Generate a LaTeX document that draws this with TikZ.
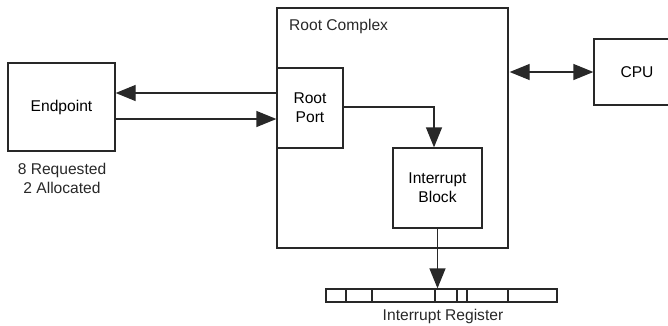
\documentclass[tikz,border=0pt]{standalone}
\usepackage{fontspec}
\setmainfont{Liberation Sans}
\usetikzlibrary{arrows.meta,calc}
\definecolor{ln}{RGB}{40,40,40}
\begin{document}
\begin{tikzpicture}[x=1pt,y=-1pt,
  box/.style={draw=ln,line width=1.3pt,inner sep=0pt,align=center,font=\fontsize{15.6}{19}\selectfont},
  lbl/.style={inner sep=0pt,align=center,font=\fontsize{15.6}{19}\selectfont,text=ln},
  arr/.style={draw=ln,line width=1.3pt,-{Triangle[length=20pt,width=16pt]}},
  darr/.style={draw=ln,line width=1.3pt,{Triangle[length=20pt,width=16pt]}-{Triangle[length=20pt,width=16pt]}}]
\useasboundingbox (0,0) rectangle (668,325);
\node[box,minimum width=107pt,minimum height=88pt] (ep) at (61.5,107) {Endpoint};
\node[lbl] (eplbl) at (62,178) {8 Requested\\2 Allocated};
\node[box,minimum width=231pt,minimum height=240pt] (rc) at (392.5,128) {};
\node[lbl,anchor=west] (rclbl) at (289,26) {Root Complex};
\node[box,minimum width=66pt,minimum height=80pt] (rp) at (310,108) {Root\\Port};
\node[box,minimum width=89pt,minimum height=80pt] (ib) at (437.5,188) {Interrupt\\Block};
\node[box,minimum width=86pt,minimum height=66pt] (cpu) at (637,72) {CPU};
\node[box,minimum width=231pt,minimum height=13pt] (reg) at (441.5,295.5) {};
\node[lbl] (reglbl) at (443,316) {Interrupt Register};
\foreach \x in {346,372,435,457,467,508}
  \draw[ln,line width=1.3pt] (\x,0 |- reg.north) -- (\x,0 |- reg.south);
\coordinate (u) at (0,93);
\coordinate (d) at (0,119);
\draw[arr] (rp.west |- u) -- (ep.east |- u);
\draw[arr] (ep.east |- d) -- (rp.west |- d);
\draw[arr] (rp.east |- 0,107) -| ([xshift=-3.5pt]ib.north);
\draw[arr] (ib.south) -- (ib.south |- reg.north);
\draw[darr] ([xshift=1pt]rc.east |- cpu.west) -- (cpu.west);
\end{tikzpicture}
\end{document}
